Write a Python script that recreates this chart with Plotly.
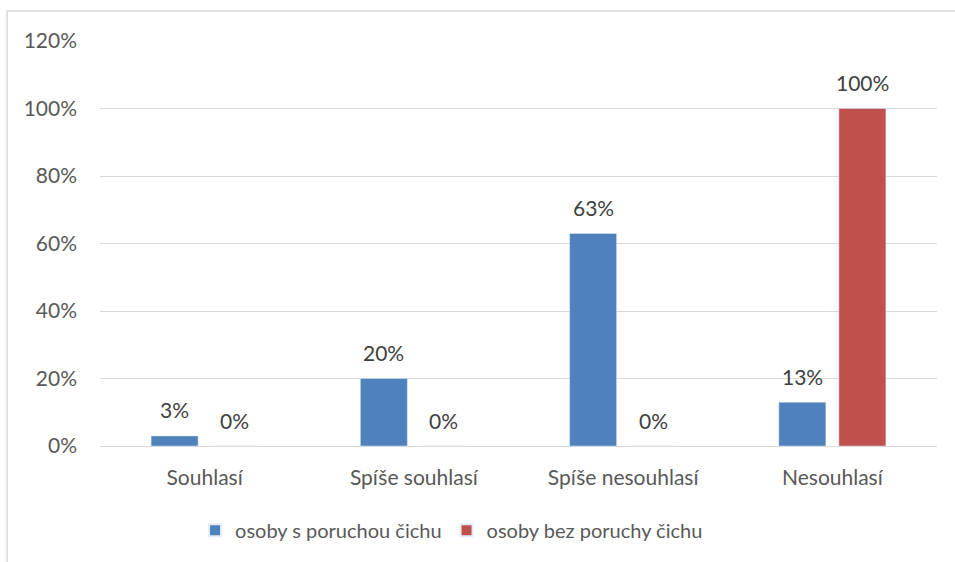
import plotly.graph_objects as go

categories = ["Souhlasí", "Spíše souhlasí", "Spíše nesouhlasí", "Nesouhlasí"]
s_poruchou = [3, 20, 63, 13]
bez_poruchy = [0, 0, 0, 100]
series_names = ["osoby s poruchou čichu", "osoby bez poruchy čichu"]
series_colors = ["#4F81BD", "#C0504D"]
y_ticks = [0, 20, 40, 60, 80, 100, 120]
y_tick_labels = [f"{v}%" for v in y_ticks]

font_family = "Lato, 'Open Sans', sans-serif"
text_color = "#595959"
fs = 21

fig = go.Figure()
for name, vals, col in zip(series_names, [s_poruchou, bez_poruchy], series_colors):
    fig.add_trace(go.Bar(x=categories, y=vals, name=name, marker_color=col))

annotations = []
for vals, shift in [(s_poruchou, -30), (bez_poruchy, 30)]:
    for c, v in zip(categories, vals):
        annotations.append(dict(x=c, y=v, xref="x", yref="y", text=f"{v}%",
                                showarrow=False, xshift=shift, yshift=26,
                                yanchor="middle",
                                font=dict(size=fs, color="#404040", family=font_family)))

fig.update_layout(
    width=955, height=562,
    margin=dict(l=100, r=18, t=41, b=116),
    paper_bgcolor="white", plot_bgcolor="white",
    barmode="group", bargap=0.426, bargroupgap=0.217,
    font=dict(family=font_family, size=fs, color=text_color),
    showlegend=True,
    legend=dict(orientation="h", x=0.42, xanchor="center", y=-0.16, yanchor="top",
                font=dict(size=20, color=text_color), itemsizing="constant",
                traceorder="normal", itemwidth=30),
    xaxis=dict(showgrid=False, showline=False, ticks="", ticklabelstandoff=17,
               tickfont=dict(size=fs, color=text_color)),
    yaxis=dict(range=[0, 120], tickvals=y_ticks, ticktext=y_tick_labels,
               showgrid=True, gridcolor="#D9D9D9", gridwidth=1,
               zeroline=True, zerolinecolor="#D9D9D9", zerolinewidth=1,
               showline=False, ticks="", ticklabelstandoff=22,
               tickfont=dict(size=fs, color=text_color)),
    annotations=annotations,
    shapes=[dict(type="rect", xref="paper", yref="paper",
                 x0=-0.111, x1=1.03, y0=-0.35, y1=1.074,
                 line=dict(color="#D9D9D9", width=1.5), fillcolor="rgba(0,0,0,0)", layer="below")],
)

fig.write_html("out.html")
